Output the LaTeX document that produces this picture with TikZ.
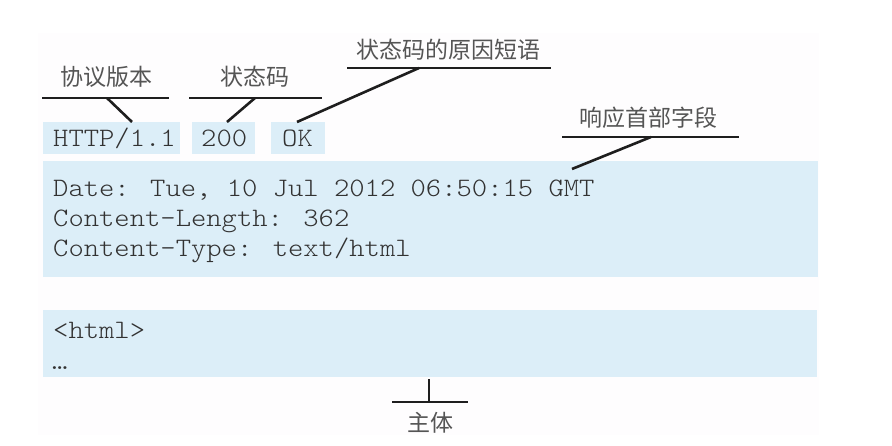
\documentclass[tikz,border=0pt]{standalone}
\usepackage{fontspec}
\newfontfamily\cjk{Noto Sans CJK SC}
\newfontfamily\mono[FakeStretch=1.097]{Latin Modern Mono Light}
\definecolor{boxblue}{RGB}{220,238,248}
\definecolor{txtgray}{RGB}{50,50,50}
\definecolor{lblgray}{RGB}{85,85,85}
\definecolor{linegray}{RGB}{30,30,30}
\definecolor{faint}{RGB}{254,253,254}
\begin{document}
\begin{tikzpicture}[x=1pt,y=-1pt,
  fieldbox/.style={fill=boxblue, draw=none, anchor=north west, inner sep=0pt},
  codetxt/.style={font=\mono\fontsize{26.6}{30}\selectfont, text=txtgray, anchor=base west, inner sep=0pt},
  lbl/.style={font=\cjk\fontsize{23}{26}\selectfont, text=lblgray, inner sep=0pt},
  lead/.style={draw=linegray, line width=2.6pt}]
\useasboundingbox (0,0) rectangle (892,446);
\fill[faint] (38,33) rectangle (819,435);
% boxes
\node[fieldbox, minimum width=137pt, minimum height=32pt] (ver) at (43,122) {};
\node[fieldbox, minimum width=63pt, minimum height=32pt] (code) at (192,122) {};
\node[fieldbox, minimum width=54pt, minimum height=32pt] (ok) at (271,122) {};
\node[fieldbox, minimum width=775pt, minimum height=116pt] (hdr) at (43,161) {};
\node[fieldbox, minimum width=774pt, minimum height=67pt] (body) at (43,310) {};
% texts
\node[codetxt] (tver) at (53,147) {HTTP/1.1};
\node[codetxt] (tcode) at (201,147) {200};
\node[codetxt] (tok) at (282,147) {OK};
\node[codetxt] (h1) at (53,197) {Date: Tue, 10 Jul 2012 06:50:15 GMT};
\node[codetxt] (h2) at (53,227) {Content-Length: 362};
\node[codetxt] (h3) at (53,257) {Content-Type: text/html};
\node[codetxt] (b1) at (53,339) {<html>};
\node[codetxt] (b2) at (52,370) {…};
% labels
\node[lbl] (lver) at (106,77) {协议版本};
\node[lbl] (lcode) at (255,77) {状态码};
\node[lbl] (lok) at (448,50) {状态码的原因短语};
\node[lbl] (lhdr) at (648,118) {响应首部字段};
\node[lbl] (lbody) at (430,423) {主体};
% leader coordinates
\coordinate (u1l) at (42,98); \coordinate (u1r) at (169,98); \coordinate (u1m) at (107,98); \coordinate (v1) at (132,122);
\coordinate (u2l) at (189,98); \coordinate (u2r) at (322,98); \coordinate (u2m) at (255,98); \coordinate (v2) at (227,122);
\coordinate (u3l) at (347,68); \coordinate (u3r) at (551,68); \coordinate (u3m) at (419,68); \coordinate (v3) at (297,122);
\coordinate (u4l) at (562,137); \coordinate (u4r) at (739,137); \coordinate (u4m) at (651,137); \coordinate (v4) at (572,169);
\coordinate (u5l) at (392,402); \coordinate (u5r) at (468,402); \coordinate (u5m) at (429,402); \coordinate (v5) at (429,379);
% leaders
\draw[lead] (u1l) -- (u1r); \draw[lead] (u1m) -- (v1);
\draw[lead] (u2l) -- (u2r); \draw[lead] (u2m) -- (v2);
\draw[lead] (u3l) -- (u3r); \draw[lead] (u3m) -- (v3);
\draw[lead] (u4l) -- (u4r); \draw[lead] (u4m) -- (v4);
\draw[lead] (u5l) -- (u5r); \draw[lead] (u5m) -- (v5);
\end{tikzpicture}
\end{document}
